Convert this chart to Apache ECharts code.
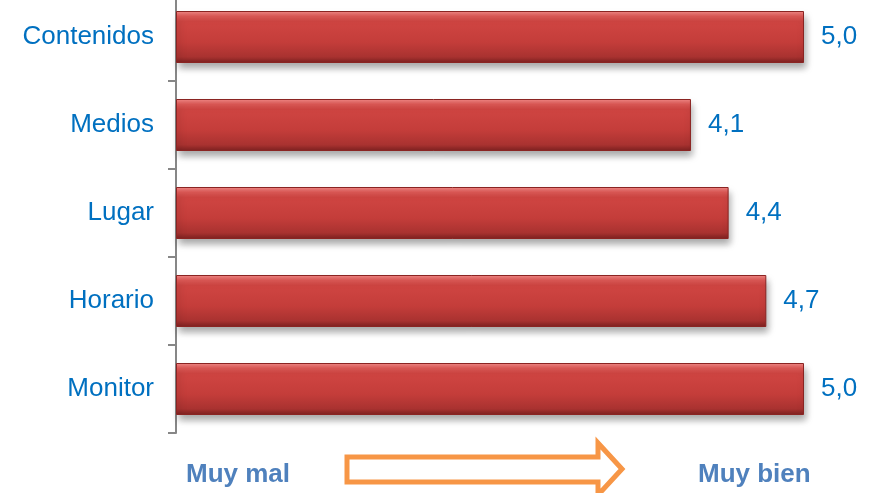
<!DOCTYPE html>
<html>
<head>
<meta charset="utf-8">
<script src="https://cdn.jsdelivr.net/npm/echarts@6/dist/echarts.min.js"></script>
<style>
  html, body { margin: 0; padding: 0; background: #fff; }
  #chart { width: 877px; height: 493px; }
</style>
</head>
<body>
<div id="chart"></div>
<script>
// categories from top to bottom
var categories = ['Contenidos', 'Medios', 'Lugar', 'Horario', 'Monitor'];
var scores = [5.0, 4.1, 4.4, 4.7, 5.0];
var scaleLeft = 'Muy mal';
var scaleRight = 'Muy bien';

var blue = '#0070c0';

var barColor = new echarts.graphic.LinearGradient(0, 0, 0, 1, [
  { offset: 0, color: '#f28a88' },
  { offset: 0.1, color: '#e05a57' },
  { offset: 0.2, color: '#cf4542' },
  { offset: 0.6, color: '#c43d3a' },
  { offset: 0.88, color: '#a93230' },
  { offset: 1, color: '#7c2120' }
]);

var chart = echarts.init(document.getElementById('chart'));

var option = {
  animation: false,
  grid: { left: 176, right: 73, top: -7, bottom: 60, outerBoundsMode: 'none' },
  xAxis: {
    type: 'value',
    min: 0,
    max: 5,
    show: false
  },
  yAxis: {
    type: 'category',
    data: categories,
    inverse: true,
    axisLine: { show: true, lineStyle: { color: '#878787', width: 2 } },
    axisTick: { show: true, length: 8, lineStyle: { color: '#878787', width: 2 } },
    axisLabel: {
      color: blue,
      fontSize: 26,
      fontFamily: 'Liberation Sans, Arial, sans-serif',
      margin: 22
    }
  },
  series: [{
    type: 'bar',
    data: scores,
    barWidth: 52,
    itemStyle: {
      color: barColor,
      borderColor: '#8a2422',
      borderWidth: 1,
      shadowColor: 'rgba(0,0,0,0.35)',
      shadowBlur: 7,
      shadowOffsetX: 2,
      shadowOffsetY: 5
    },
    label: {
      show: true,
      position: 'right',
      distance: 17,
      color: blue,
      fontSize: 26,
      fontFamily: 'Liberation Sans, Arial, sans-serif',
      formatter: function (p) {
        return p.value.toFixed(1).replace('.', ',');
      }
    }
  }],
  graphic: [
    {
      type: 'text',
      left: 186,
      top: 462,
      style: {
        text: scaleLeft,
        fill: '#4f81bd',
        font: 'bold 26px "Liberation Sans", Arial, sans-serif'
      }
    },
    {
      type: 'text',
      left: 698,
      top: 462,
      style: {
        text: scaleRight,
        fill: '#4f81bd',
        font: 'bold 26px "Liberation Sans", Arial, sans-serif'
      }
    },
    {
      // orange outline arrow
      type: 'polygon',
      shape: {
        points: [[347, 457], [598, 457], [598, 443], [622, 469], [598, 495], [598, 482], [347, 482]]
      },
      style: { fill: 'none', stroke: '#f79646', lineWidth: 5 }
    }
  ]
};

chart.setOption(option);
</script>
</body>
</html>
